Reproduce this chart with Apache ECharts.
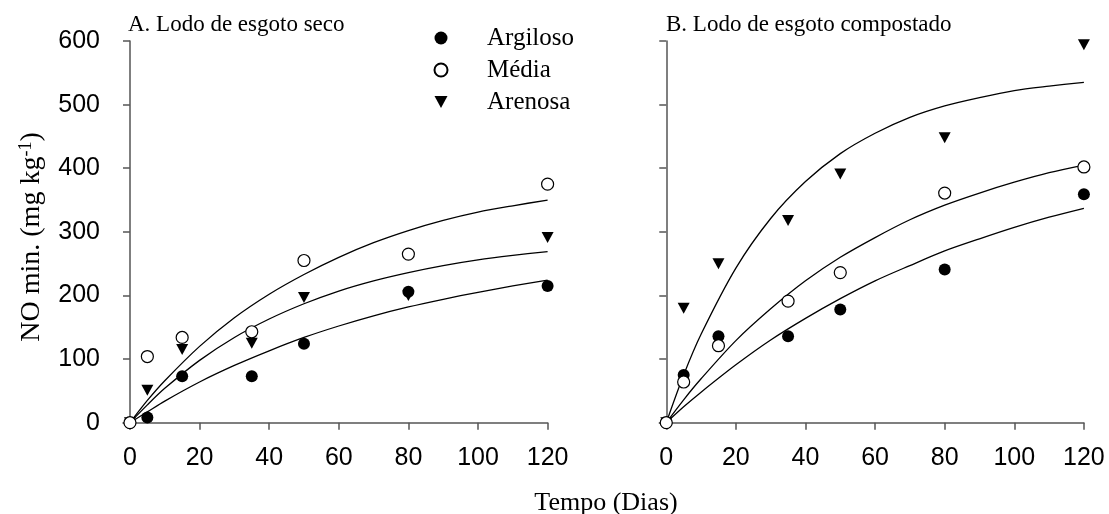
<!DOCTYPE html>
<html>
<head>
<meta charset="utf-8">
<script src="https://cdn.jsdelivr.net/npm/echarts@6/dist/echarts.min.js"></script>
<style>
  html, body { margin: 0; padding: 0; background: #fff; }
  #chart { width: 1109px; height: 514px; }
</style>
</head>
<body>
<div id="chart"></div>
<script>
// Sampling days of the incubation
const days = [0, 5, 15, 35, 50, 80, 120];
const soilNames = ['Argiloso', 'Média', 'Arenosa'];

// A. Lodo de esgoto seco — observed N mineralized (mg kg-1)
const secoArgiloso = [0, 8, 73, 73, 124, 206, 215];
const secoMedia    = [0, 104, 134, 143, 255, 265, 375];
const secoArenosa  = [0, 51, 115, 125, 197, 200, 291];

// B. Lodo de esgoto compostado — observed N mineralized (mg kg-1)
const compArgiloso = [0, 75, 136, 136, 178, 241, 359];
const compMedia    = [0, 64, 121, 191, 236, 361, 402];
const compArenosa  = [0, 180, 250, 318, 391, 448, 594];

// Fitted mineralization curves, read along the day axis
const curveDays = [0, 5, 10, 20, 30, 40, 50, 60, 70, 80, 90, 100, 110, 120];
const fitSecoArgiloso = [0, 17, 34, 64, 90, 113, 134, 152, 168, 182, 194, 205, 215, 224];
const fitSecoMedia    = [0, 35, 66, 120, 165, 202, 233, 260, 283, 302, 318, 331, 341, 350];
const fitSecoArenosa  = [0, 28, 54, 98, 134, 163, 187, 207, 223, 236, 247, 256, 263, 269];
const fitCompArgiloso = [0, 25, 48, 91, 130, 164, 195, 223, 247, 270, 289, 307, 323, 337];
const fitCompMedia    = [0, 36, 69, 129, 179, 223, 260, 291, 319, 342, 361, 378, 393, 405];
const fitCompArenosa  = [0, 75, 139, 243, 321, 379, 423, 455, 480, 498, 511, 522, 529, 535];

// Axis ticks
const xTicks = [0, 20, 40, 60, 80, 100, 120];
const yMin = 0, yMax = 600, yStep = 100;

const panelTitles = ['A. Lodo de esgoto seco', 'B. Lodo de esgoto compostado'];
const xTitle = 'Tempo (Dias)';

const AXIS_COLOR = '#555';
const SANS = 'Liberation Sans, Arial, sans-serif';
const SERIF = 'Liberation Serif, Times New Roman, serif';
const DOWN_TRIANGLE = 'path://M0,0L12,0L6,11Z';

function pairs(xs, ys) { return xs.map((x, i) => [x, ys[i]]); }

function xAxisFor(idx) {
  return {
    type: 'value', gridIndex: idx, min: -2, max: 120,
    axisLine: { show: true, onZero: false, lineStyle: { color: AXIS_COLOR, width: 1.5 } },
    axisTick: { show: true, customValues: xTicks, length: 7, lineStyle: { color: AXIS_COLOR, width: 1.5 } },
    axisLabel: { customValues: xTicks, margin: 23, fontSize: 25, fontFamily: SANS, color: '#000' },
    splitLine: { show: false }
  };
}
function yAxisFor(idx, labels) {
  return {
    type: 'value', gridIndex: idx, min: yMin, max: yMax, interval: yStep,
    axisLine: { show: true, lineStyle: { color: AXIS_COLOR, width: 1.5 } },
    axisTick: { show: true, length: 7, lineStyle: { color: AXIS_COLOR, width: 1.5 } },
    axisLabel: { show: labels, margin: 23, fontSize: 25, fontFamily: SANS, color: '#000' },
    splitLine: { show: false }
  };
}

const markerStyles = {
  'Argiloso': { symbol: 'circle', symbolSize: 12, itemStyle: { color: '#000', opacity: 1 } },
  'Média':    { symbol: 'circle', symbolSize: 12, itemStyle: { color: '#fff', borderColor: '#000', borderWidth: 1.2, opacity: 1 } },
  'Arenosa':  { symbol: DOWN_TRIANGLE, symbolSize: [12, 11], itemStyle: { color: '#000', opacity: 1 } }
};

function scatter(name, idx, values) {
  const m = markerStyles[name];
  return {
    name: name, type: 'scatter', xAxisIndex: idx, yAxisIndex: idx,
    data: pairs(days, values), symbol: m.symbol, symbolSize: m.symbolSize,
    itemStyle: m.itemStyle, clip: false, z: 5
  };
}
function curve(name, idx, values) {
  return {
    name: name, type: 'line', xAxisIndex: idx, yAxisIndex: idx,
    data: pairs(curveDays, values), showSymbol: false, symbol: 'none',
    smooth: 0.3,
    lineStyle: { color: '#000', width: 1.3 }, z: 3
  };
}

const chart = echarts.init(document.getElementById('chart'), null, { renderer: 'canvas' });
chart.setOption({
  animation: false,
  backgroundColor: '#fff',
  grid: [
    { left: 123, top: 41, width: 424.6, height: 381.7 },
    { left: 659.3, top: 41, width: 424.6, height: 381.7 }
  ],
  xAxis: [xAxisFor(0), xAxisFor(1)],
  yAxis: [yAxisFor(0, true), yAxisFor(1, false)],
  legend: {
    data: [
      { name: soilNames[0], icon: 'circle' },
      { name: soilNames[1], icon: 'circle' },
      { name: soilNames[2], icon: DOWN_TRIANGLE }
    ],
    orient: 'vertical', left: 433.5, top: 25.5,
    itemWidth: 13, itemHeight: 13, itemGap: 7, padding: 0,
    textStyle: { fontFamily: SERIF, fontSize: 25, lineHeight: 25, color: '#000', padding: [0, 0, 0, 34.5] },
    selectedMode: false
  },
  graphic: [
    { type: 'text', left: 128, top: 13, style: { text: panelTitles[0], font: '23px ' + SERIF, fill: '#000' } },
    { type: 'text', left: 666, top: 13, style: { text: panelTitles[1], font: '23px ' + SERIF, fill: '#000' } },
    { type: 'text', x: 606, y: 503, style: { text: xTitle, font: '26px ' + SERIF, fill: '#000', align: 'center', verticalAlign: 'middle' } },
    {
      type: 'text', x: 32, y: 237, rotation: Math.PI / 2,
      style: {
        text: '{m|NO min. (mg kg}{s|-1}{m|)}', align: 'center', verticalAlign: 'middle', fill: '#000',
        rich: {
          m: { fontFamily: SERIF, fontSize: 28, lineHeight: 30, fill: '#000' },
          s: { fontFamily: SERIF, fontSize: 18, lineHeight: 30, verticalAlign: 'top', fill: '#000' }
        }
      }
    }
  ],
  series: [
    curve('fitSecoArgiloso', 0, fitSecoArgiloso),
    curve('fitSecoMedia', 0, fitSecoMedia),
    curve('fitSecoArenosa', 0, fitSecoArenosa),
    curve('fitCompArgiloso', 1, fitCompArgiloso),
    curve('fitCompMedia', 1, fitCompMedia),
    curve('fitCompArenosa', 1, fitCompArenosa),
    scatter('Arenosa', 0, secoArenosa),
    scatter('Argiloso', 0, secoArgiloso),
    scatter('Média', 0, secoMedia),
    scatter('Arenosa', 1, compArenosa),
    scatter('Argiloso', 1, compArgiloso),
    scatter('Média', 1, compMedia)
  ]
});
</script>
</body>
</html>
